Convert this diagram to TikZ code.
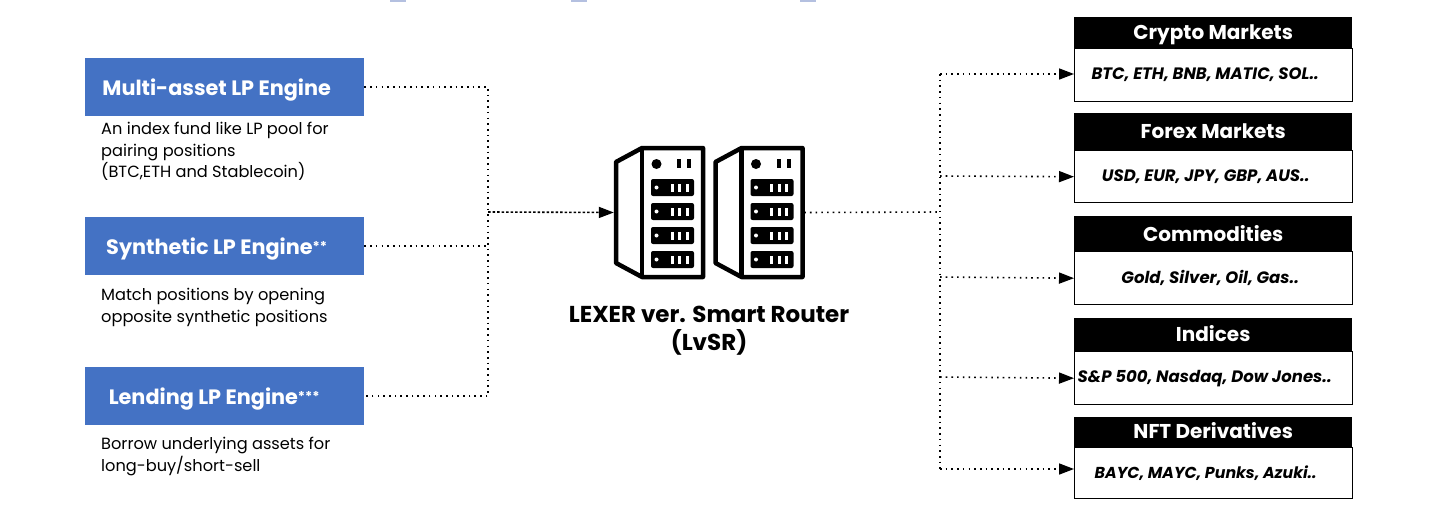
\documentclass[tikz,border=0pt]{standalone}
\usepackage{fontspec}
\usepackage{graphicx}
\setmainfont{Poppins}
\usetikzlibrary{arrows.meta,calc}
\definecolor{lpblue}{HTML}{4472C4}
\definecolor{stub}{HTML}{B4C0E0}
\newcommand{\lwr}[2]{\raisebox{#1}[0pt][0pt]{#2}}
\newcommand{\smallast}[1]{\raisebox{2.5pt}{\scalebox{.65}{#1}}}
\tikzset{
  lpbox/.style={fill=lpblue,text=white,minimum width=279pt,inner sep=0pt,font=\fontsize{20.8}{24}\selectfont\bfseries,anchor=north west,align=center},
  desc/.style={anchor=north west,inner sep=0pt,align=left,font=\fontsize{16.2}{21.6}\selectfont},
  mkhead/.style={fill=black,text=white,inner sep=0pt,minimum width=278pt,anchor=north west,font=\fontsize{20}{24}\selectfont\bfseries},
  mkbody/.style={draw=black,line width=1.4pt,fill=white,inner sep=0pt,minimum width=278pt,anchor=north west,font=\fontsize{16.5}{20}\selectfont\bfseries\itshape},
  dots/.style={line width=1.6pt,dash pattern=on 1.6pt off 4.1pt},
  dotsarrow/.style={dots,-{Triangle[length=15pt,width=11pt,black]}},
  dense/.style={line width=1.6pt,dash pattern=on 2.5pt off 2pt,-{Triangle[length=15pt,width=11pt,black]}},
  stubbar/.style={fill=stub,draw=none,minimum width=16pt,minimum height=2pt,inner sep=0pt,anchor=north west},
  title/.style={font=\fontsize{23}{28}\selectfont\bfseries,align=center,inner sep=0pt},
  rack/.style={line width=4.5pt,line join=round,draw=black,fill=white}
}
\newcommand{\rackunit}[2]{%
  \begin{scope}[shift={(#1,#2)}]
    \draw[rack] (616,162)--(642,148)--(703,148)--(703,277)--(642,277)--(616,263)--cycle;
    \draw[rack] (642,148)--(642,277);
    \fill (656.5,164) circle (5);
    \fill (677,159) rectangle (681,168);
    \fill (687,159) rectangle (691,168);
    \foreach \ry in {179,203,227,251}{
      \fill[rounded corners=2pt] (651,\ry) rectangle (694,\ry+17);
      \fill[white] (656.5,\ry+8.5) circle (2);
      \fill[white] (670.5,\ry+4.5) rectangle (673.5,\ry+12.5);
      \fill[white] (678,\ry+4.5) rectangle (681,\ry+12.5);
      \fill[white] (685.5,\ry+4.5) rectangle (688.5,\ry+12.5);
    }
  \end{scope}}
\begin{document}
\begin{tikzpicture}[x=1pt,y=-1pt]
\useasboundingbox (0,0) rectangle (1456,514);
\fill[white] (0,0) rectangle (1456,514);
\node[stubbar] (s1) at (390,0) {};
\node[stubbar] (s2) at (571,0) {};
\node[stubbar] (s3) at (800,0) {};
% left
\node[lpbox,minimum height=58pt] (lp1) at (85,58) {\hspace{-16pt}\lwr{-8pt}{Multi-asset LP Engine}};
\node[lpbox,minimum height=58pt] (lp2) at (85,217) {\hspace{-16pt}\lwr{-8pt}{Synthetic LP Engine\smallast{**}}};
\node[lpbox,minimum height=58pt] (lp3) at (85,367) {\hspace{-21pt}\lwr{-8pt}{Lending LP Engine\smallast{***}}};
\node[desc] (d1) at (101,122) {An index fund like LP pool for\\pairing positions\\(BTC,ETH and Stablecoin)};
\node[desc] (d2) at (101,288) {Match positions by opening\\opposite synthetic positions};
\node[desc] (d3) at (101,437) {Borrow underlying assets for\\long-buy/short-sell};
% servers
\rackunit{0}{0}
\rackunit{99.5}{0}
\node[minimum width=190pt,minimum height=133pt,inner sep=0pt] (srv) at (709,212.5) {};
\node[title] (t) at (709,331) {LEXER ver. Smart Router\\(LvSR)};
% right
\node[mkhead,minimum height=31pt] (h1) at (1074,17) {\lwr{-7pt}{Crypto Markets}};
\node[mkbody,minimum height=53pt] (b1) at (1074,47.5) {\hspace{-17pt}BTC, ETH, BNB, MATIC, SOL..};
\node[mkhead,minimum height=37pt] (h2) at (1074,113) {\lwr{-7pt}{Forex Markets}};
\node[mkbody,minimum height=52pt] (b2) at (1074,150) {\hspace{-16pt}USD, EUR, JPY, GBP, AUS..};
\node[mkhead,minimum height=36pt] (h3) at (1074,216) {\lwr{-7pt}{Commodities}};
\node[mkbody,minimum height=53pt] (b3) at (1074,251) {\hspace{-7pt}Gold, Silver, Oil, Gas..};
\node[mkhead,minimum height=34pt] (h4) at (1074,318) {\lwr{-6pt}{Indices}};
\node[mkbody,minimum height=53pt] (b4) at (1074,351) {\hspace{-18pt}S\&P 500, Nasdaq, Dow Jones..};
\node[mkhead,minimum height=30pt] (h5) at (1074,417) {\lwr{-6pt}{NFT Derivatives}};
\node[mkbody,minimum height=51pt] (b5) at (1074,446.5) {\hspace{-16pt}\scalebox{.96}{BAYC, MAYC, Punks, Azuki..}};
% connectors
\coordinate (jl) at (488,212);
\coordinate (jr) at (940,212);
\draw[dots] (lp1.east) -- (lp1.east-|jl) -- (lp3.east-|jl) -- (lp3.east);
\draw[dots] (lp2.east) -- (lp2.east-|jl);
\draw[dense] (jl) -- (srv.west);
\draw[dots] (srv.east) -- (jr);
\draw[dots] (940,74) -- (940,469);
\draw[dotsarrow] (940,74) -- (1074,74);
\draw[dotsarrow] (940,176) -- (b2.west);
\draw[dotsarrow] (940,277) -- (b3.west);
\draw[dotsarrow] (940,377) -- (b4.west);
\draw[dotsarrow] (940,469) -- (1074,469);
\end{tikzpicture}
\end{document}
